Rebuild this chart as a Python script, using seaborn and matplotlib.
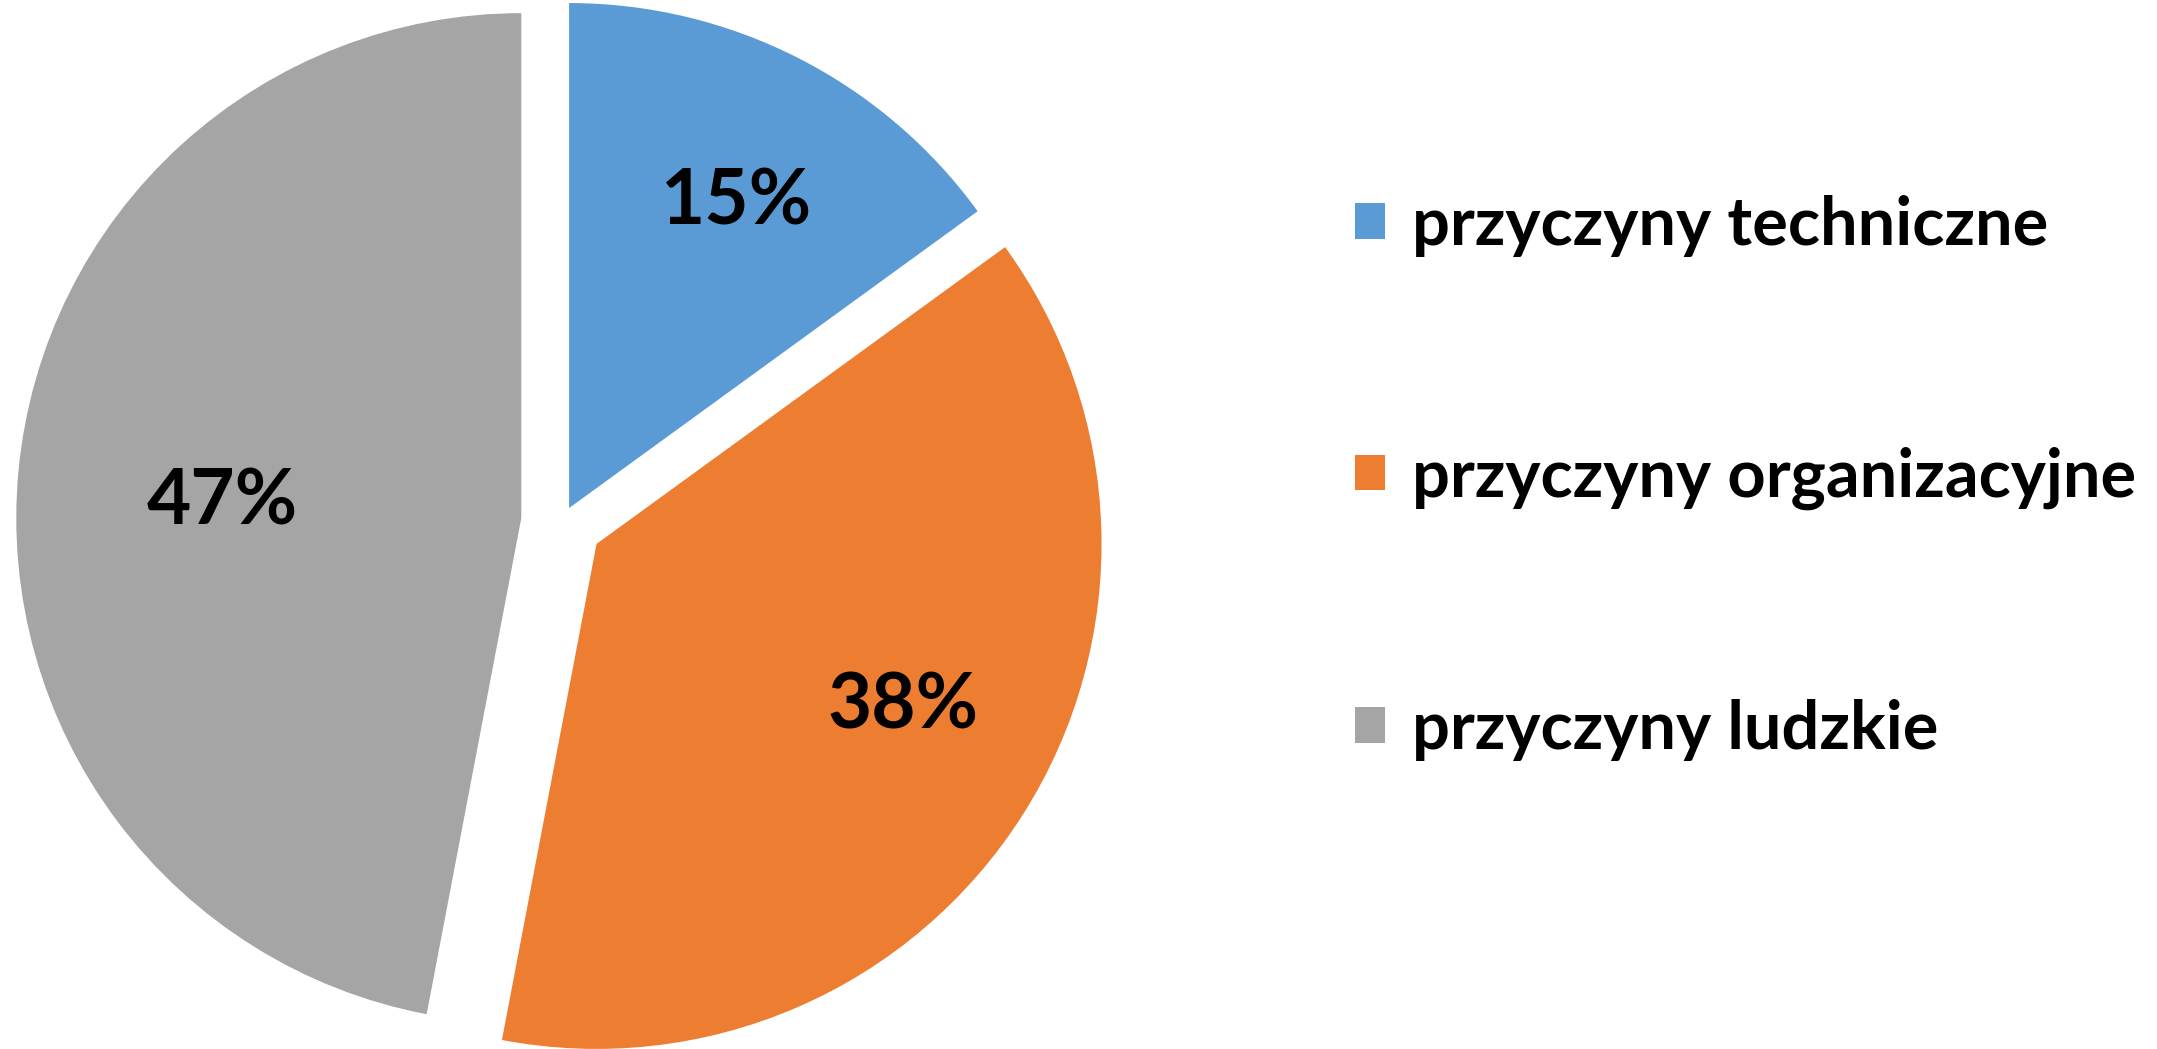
import numpy as np
import seaborn as sns
import matplotlib.pyplot as plt

# data
categories = ['przyczyny techniczne', 'przyczyny organizacyjne', 'przyczyny ludzkie']
shares = [15, 38, 47]
colors = ['#5B9BD5', '#ED7D31', '#A5A5A5']
explode = [0.031, 0.081, 0.081]

# where each percentage sits inside its slice (radius fraction, turn from bisector in degrees)
label_dist = [0.707, 0.678, 0.595]
label_turn = [-1, 6, 0.5]

sns.set_theme(style="white")
plt.rcParams['font.family'] = ['Lato', 'DejaVu Sans']

W, H = 2157, 1049
R_PX = 505          # pie radius in pixels
CX, CY = 562, 522   # pie centre in pixels (from top-left)

fig = plt.figure(figsize=(W / 100, H / 100), dpi=100)
ax = fig.add_axes([0, 0, 1, 1])

wedges, texts, autotexts = ax.pie(
    shares, colors=colors, explode=explode, startangle=90, counterclock=False,
    radius=1, autopct='%1.0f%%', wedgeprops=dict(linewidth=0),
    textprops=dict(fontsize=55, fontweight='bold', color='black'))

for w, t, d, turn in zip(wedges, autotexts, label_dist, label_turn):
    th = np.deg2rad((w.theta1 + w.theta2) / 2 + turn)
    cx, cy = w.center
    t.set_position((cx + d * np.cos(th), cy + d * np.sin(th) - 0.02))

ax.set_aspect('auto')
ax.set_xlim(-CX / R_PX, (W - CX) / R_PX)
ax.set_ylim(-(H - CY) / R_PX, CY / R_PX)
ax.axis('off')

leg = fig.legend(wedges, categories, loc='center left', bbox_to_anchor=(1355 / W, 1 - 478 / H),
                 frameon=False, handlelength=0.45, handleheight=0.45,
                 handletextpad=0.4, labelspacing=2.84, borderpad=0, borderaxespad=0,
                 labelcolor='black', prop=dict(size=48, weight='bold'))

fig.savefig('out.png', dpi=100)
